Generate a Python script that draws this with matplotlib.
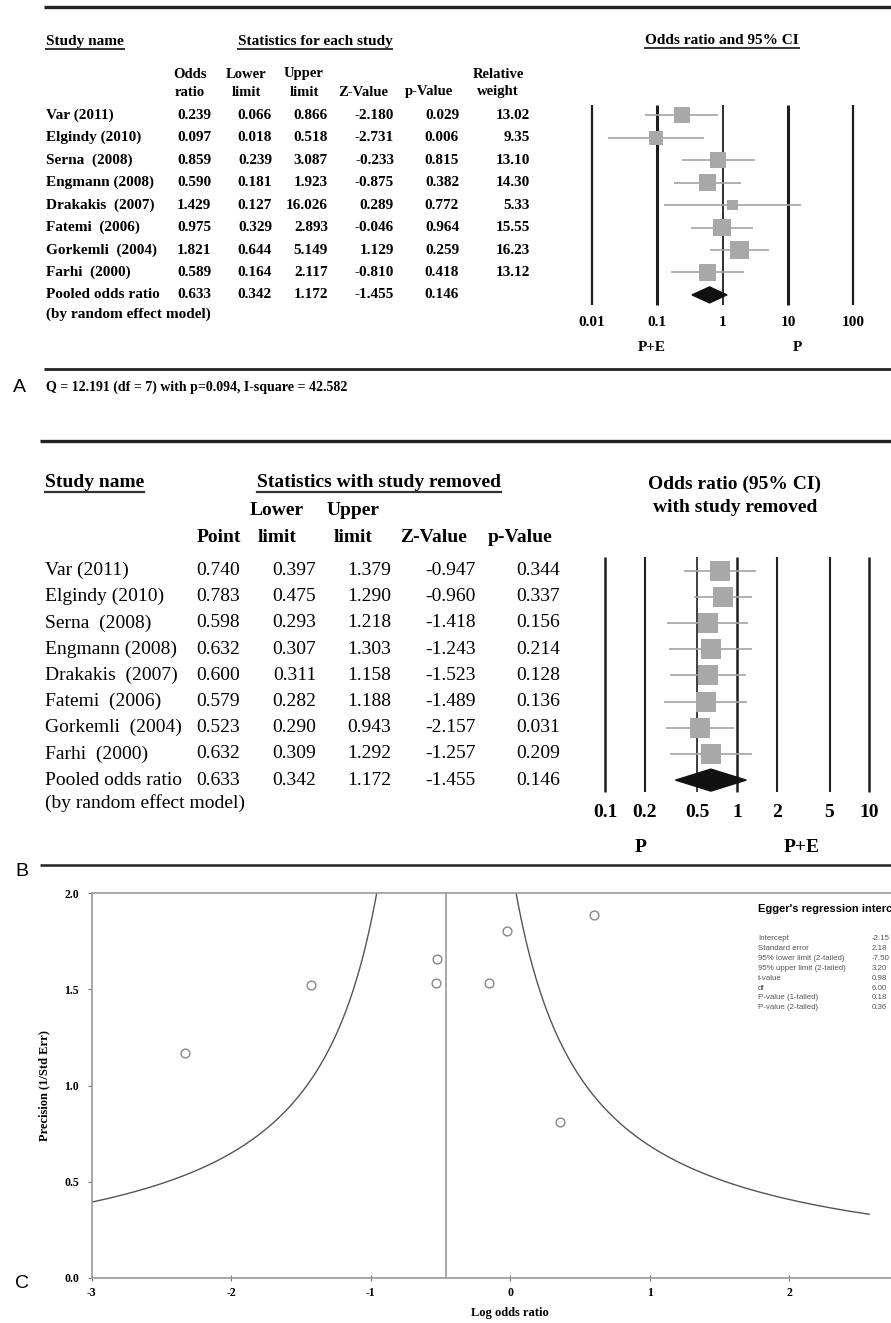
import numpy as np
import matplotlib
matplotlib.use("Agg")
import matplotlib.pyplot as plt
from matplotlib.lines import Line2D

# ---------------- data ----------------
studies = ["Var (2011)", "Elgindy (2010)", "Serna  (2008)", "Engmann (2008)",
           "Drakakis  (2007)", "Fatemi  (2006)", "Gorkemli  (2004)", "Farhi  (2000)"]
pooled_label = ["Pooled odds ratio", "(by random effect model)"]

# Panel A: statistics for each study
or_a = [0.239, 0.097, 0.859, 0.590, 1.429, 0.975, 1.821, 0.589]
lo_a = [0.066, 0.018, 0.239, 0.181, 0.127, 0.329, 0.644, 0.164]
hi_a = [0.866, 0.518, 3.087, 1.923, 16.026, 2.893, 5.149, 2.117]
z_a = [-2.180, -2.731, -0.233, -0.875, 0.289, -0.046, 1.129, -0.810]
p_a = [0.029, 0.006, 0.815, 0.382, 0.772, 0.964, 0.259, 0.418]
w_a = [13.02, 9.35, 13.10, 14.30, 5.33, 15.55, 16.23, 13.12]
pooled_or, pooled_lo, pooled_hi, pooled_z, pooled_p = 0.633, 0.342, 1.172, -1.455, 0.146
ticks_a = [0.01, 0.1, 1, 10, 100]
tick_labels_a = ["0.01", "0.1", "1", "10", "100"]
het_text = "Q = 12.191 (df = 7) with p=0.094, I-square = 42.582"

# Panel B: statistics with study removed
pt_b = [0.740, 0.783, 0.598, 0.632, 0.600, 0.579, 0.523, 0.632]
lo_b = [0.397, 0.475, 0.293, 0.307, 0.311, 0.282, 0.290, 0.309]
hi_b = [1.379, 1.290, 1.218, 1.303, 1.158, 1.188, 0.943, 1.292]
z_b = [-0.947, -0.960, -1.418, -1.243, -1.523, -1.489, -2.157, -1.257]
p_b = [0.344, 0.337, 0.156, 0.214, 0.128, 0.136, 0.031, 0.209]
ticks_b = [0.1, 0.2, 0.5, 1, 2, 5, 10]
tick_labels_b = ["0.1", "0.2", "0.5", "1", "2", "5", "10"]

# Panel C: funnel plot
xticks_c = [-3, -2, -1, 0, 1, 2]
yticks_c = [0.0, 0.5, 1.0, 1.5, 2.0]
egger_rows = ["Intercept", "Standard error", "95% lower limit (2-tailed)",
              "95% upper limit (2-tailed)", "t-value", "df",
              "P-value (1-tailed)", "P-value (2-tailed)"]
egger_vals = ["-2.15", "2.18", "-7.50", "3.20", "0.98", "6.00", "0.18", "0.36"]

# ---------------- figure ----------------
W, H = 891, 1323
fig = plt.figure(figsize=(W / 100, H / 100), dpi=100)
SERIF = ["Liberation Serif", "DejaVu Serif"]
SANS = ["Liberation Sans", "DejaVu Sans"]
plt.rcParams['font.family'] = SERIF


def fx(x):
    return x / W


def fy(y):
    return 1 - y / H


def ftext(x, y, s, size=11, weight="bold", ha="left", va="center", family=SERIF, **kw):
    return fig.text(fx(x), fy(y), s, fontsize=size, fontweight=weight, ha=ha, va=va,
                    family=family, **kw)


def hline(x0, x1, y, lw, color="#222222"):
    fig.add_artist(Line2D([fx(x0), fx(x1)], [fy(y), fy(y)], lw=lw, color=color,
                          transform=fig.transFigure, solid_capstyle="butt"))


renderer = fig.canvas.get_renderer()


def underline(t, lw=1.4, gap=1.5):
    bb = t.get_window_extent(renderer=renderer)
    yy = (bb.y0 - gap) / H
    fig.add_artist(Line2D([bb.x0 / W, bb.x1 / W], [yy, yy], lw=lw, color="#333333",
                          transform=fig.transFigure))


GREY_SQ = "#a8a8a8"
GREY_LN = "#a3a3a3"

# =============== Panel A ===============
hline(44, W, 7, 2.4)
underline(ftext(46, 41, "Study name", 11))
underline(ftext(315, 41, "Statistics for each study", 11, ha="center"))
underline(ftext(722, 40, "Odds ratio and 95% CI", 11, ha="center"))

hdrA = [(190, "Odds", "ratio"), (246, "Lower", "limit"), (304, "Upper", "limit"),
        (363, "", "Z-Value"), (429, "", "p-Value"), (498, "Relative", "weight")]
for cx, l1, l2 in hdrA:
    if l1:
        ftext(cx, 74, l1, 10.5, ha="center")
    ftext(cx, 92, l2, 10.5, ha="center")

rowA_y0, rowA_dy = 115.3, 22.45
colA = [211, 272, 328, 394, 459, 530]
for i, name in enumerate(studies):
    y = rowA_y0 + rowA_dy * i
    ftext(46, y, name, 11)
    vals = [f"{or_a[i]:.3f}", f"{lo_a[i]:.3f}", f"{hi_a[i]:.3f}", f"{z_a[i]:.3f}",
            f"{p_a[i]:.3f}", f"{w_a[i]:.2f}"]
    for cx, v in zip(colA, vals):
        ftext(cx, y, v, 11, ha="right")
yP = rowA_y0 + rowA_dy * 8
ftext(46, yP, pooled_label[0], 11)
ftext(46, yP + 19, pooled_label[1], 11)
for cx, v in zip(colA, [pooled_or, pooled_lo, pooled_hi, pooled_z, pooled_p]):
    ftext(cx, yP, f"{v:.3f}", 11, ha="right")


def rowA(p):
    return (p - rowA_y0) / rowA_dy

axA = fig.add_axes([fx(560), fy(360), (W - 560) / W, (360 - 95) / H])
axA.set_xscale("log")
axA.set_xlim(10 ** -2.485, 10 ** 2.576)
axA.set_ylim(rowA(360), rowA(95))
axA.axis("off")
for t, lw in zip(ticks_a, [1.6, 2.2, 1.3, 2.2, 1.6]):
    axA.plot([t, t], [rowA(105), rowA(305)], color="#1e1e1e", lw=lw, solid_capstyle="butt")
for t, lab in zip(ticks_a, tick_labels_a):
    axA.text(t, rowA(323), lab, ha="center", va="center", fontsize=11, fontweight="bold")
idx = np.arange(len(studies))
axA.hlines(idx, lo_a, hi_a, color=GREY_LN, lw=1.2, zorder=2)
side_pt = 4.5 * np.sqrt(np.array(w_a)) * 0.72
axA.scatter(or_a, idx, marker="s", s=side_pt ** 2, color=GREY_SQ, linewidths=0, zorder=3)
hA = 8 / rowA_dy
axA.fill([pooled_lo, pooled_or, pooled_hi, pooled_or], [8, 8 - hA, 8, 8 + hA],
         color="#111111", zorder=3)
ftext(652, 348, "P+E", 11, ha="center")
ftext(797, 348, "P", 11, ha="center")

hline(44, W, 369, 2.0)
ftext(13, 387, "A", 14, weight="normal", family=SANS, ha="left")
ftext(46, 387, het_text, 10)

# =============== Panel B ===============
hline(40, W, 441, 2.4)
underline(ftext(45, 482, "Study name", 14), lw=1.6)
underline(ftext(379, 482, "Statistics with study removed", 14, ha="center"), lw=1.6)
ftext(735, 484, "Odds ratio (95% CI)", 14, ha="center")
ftext(735, 507, "with study removed", 14, ha="center")

hdrB = [(219, "", "Point"), (277, "Lower", "limit"), (353, "Upper", "limit"),
        (434, "", "Z-Value"), (520, "", "p-Value")]
for cx, l1, l2 in hdrB:
    if l1:
        ftext(cx, 510, l1, 14, ha="center")
    ftext(cx, 537, l2, 14, ha="center")

rowB_y0, rowB_dy = 570.5, 26.2
colB = [240, 316, 391, 476, 560]
for i, name in enumerate(studies):
    y = rowB_y0 + rowB_dy * i
    ftext(45, y, name, 14, weight="normal")
    vals = [pt_b[i], lo_b[i], hi_b[i], z_b[i], p_b[i]]
    for cx, v in zip(colB, vals):
        ftext(cx, y, f"{v:.3f}", 14, weight="normal", ha="right")
yPB = rowB_y0 + rowB_dy * 8
ftext(45, yPB, pooled_label[0], 14, weight="normal")
ftext(45, yPB + 23, pooled_label[1], 14, weight="normal")
for cx, v in zip(colB, [pooled_or, pooled_lo, pooled_hi, pooled_z, pooled_p]):
    ftext(cx, yPB, f"{v:.3f}", 14, weight="normal", ha="right")


def rowB(p):
    return (p - rowB_y0) / rowB_dy

axB = fig.add_axes([fx(560), fy(835), (W - 560) / W, (835 - 545) / H])
axB.set_xscale("log")
axB.set_xlim(10 ** -1.340, 10 ** 1.164)
axB.set_ylim(rowB(835), rowB(545))
axB.axis("off")
for t, lw in zip(ticks_b, [1.8, 1.5, 1.2, 1.8, 1.5, 1.5, 1.8]):
    axB.plot([t, t], [rowB(557), rowB(792)], color="#1e1e1e", lw=lw, solid_capstyle="butt")
for t, lab in zip(ticks_b, tick_labels_b):
    axB.text(t, rowB(813), lab, ha="center", va="center", fontsize=14, fontweight="bold")
axB.hlines(idx, lo_b, hi_b, color=GREY_LN, lw=1.2, zorder=2)
axB.scatter(pt_b, idx, marker="s", s=(20 * 0.72) ** 2, color=GREY_SQ, linewidths=0, zorder=3)
hB = 11 / rowB_dy
axB.fill([pooled_lo, pooled_or, pooled_hi, pooled_or], [8, 8 - hB, 8, 8 + hB],
         color="#111111", zorder=3)
ftext(641, 847, "P", 14, ha="center")
ftext(802, 847, "P+E", 14, ha="center")

hline(40, W, 865, 1.8)
ftext(15, 872, "B", 14, weight="normal", family=SANS)

# =============== Panel C ===============
c_left, c_top, c_bot, px_unit = 91.7, 893.3, 1277.7, 139.5
axC = fig.add_axes([fx(c_left), fy(c_bot), 6 * px_unit / W, (c_bot - c_top) / H])
axC.set_xlim(-3, 3)
axC.set_ylim(0, 2)
for s in ["left", "top", "bottom"]:
    axC.spines[s].set_color("#9a9a9a")
    axC.spines[s].set_linewidth(1.2)
axC.spines["right"].set_visible(False)
axC.set_xticks(xticks_c)
axC.set_xticklabels([str(v) for v in xticks_c])
axC.set_yticks(yticks_c)
axC.set_yticklabels([f"{v:.1f}" for v in yticks_c])
axC.tick_params(axis="x", direction="inout", length=5, color="#777777", labelsize=8.5, pad=4)
axC.tick_params(axis="y", direction="out", length=3, color="#777777", labelsize=8.5, pad=6)
for lab in axC.get_xticklabels() + axC.get_yticklabels():
    lab.set_fontweight("bold")
axC.set_xlabel("Log odds ratio", fontsize=9, fontweight="bold", labelpad=6)
axC.set_ylabel("Precision (1/Std Err)", fontsize=9, fontweight="bold", labelpad=10)

log_or = np.log(or_a)
se = (np.log(hi_a) - np.log(lo_a)) / (2 * 1.96)
precision = 1 / se
center = np.log(pooled_or)
axC.axvline(center, color="#9a9a9a", lw=1.2)
FUNNEL_K = 1.0
prec_line = np.linspace(0.33, 2.0, 300)
axC.plot(center - FUNNEL_K / prec_line, prec_line, color="#555555", lw=1.0)
axC.plot(center + FUNNEL_K / prec_line, prec_line, color="#555555", lw=1.0)
axC.scatter(log_or, precision, s=40, facecolors="white", edgecolors="#888888",
            linewidths=1.0, zorder=3)

ftext(758, 909, "Egger's regression intercept", 8, family=SANS)
for k, (lab, val) in enumerate(zip(egger_rows, egger_vals)):
    y = 939 + 9.8 * k
    ftext(758, y, lab, 5.7, weight="normal", family=SANS, color="#555555")
    ftext(872, y, val, 5.7, weight="normal", family=SANS, color="#555555")

ftext(15, 1283, "C", 14, weight="normal", family=SANS)

fig.savefig("out.png", dpi=100)
